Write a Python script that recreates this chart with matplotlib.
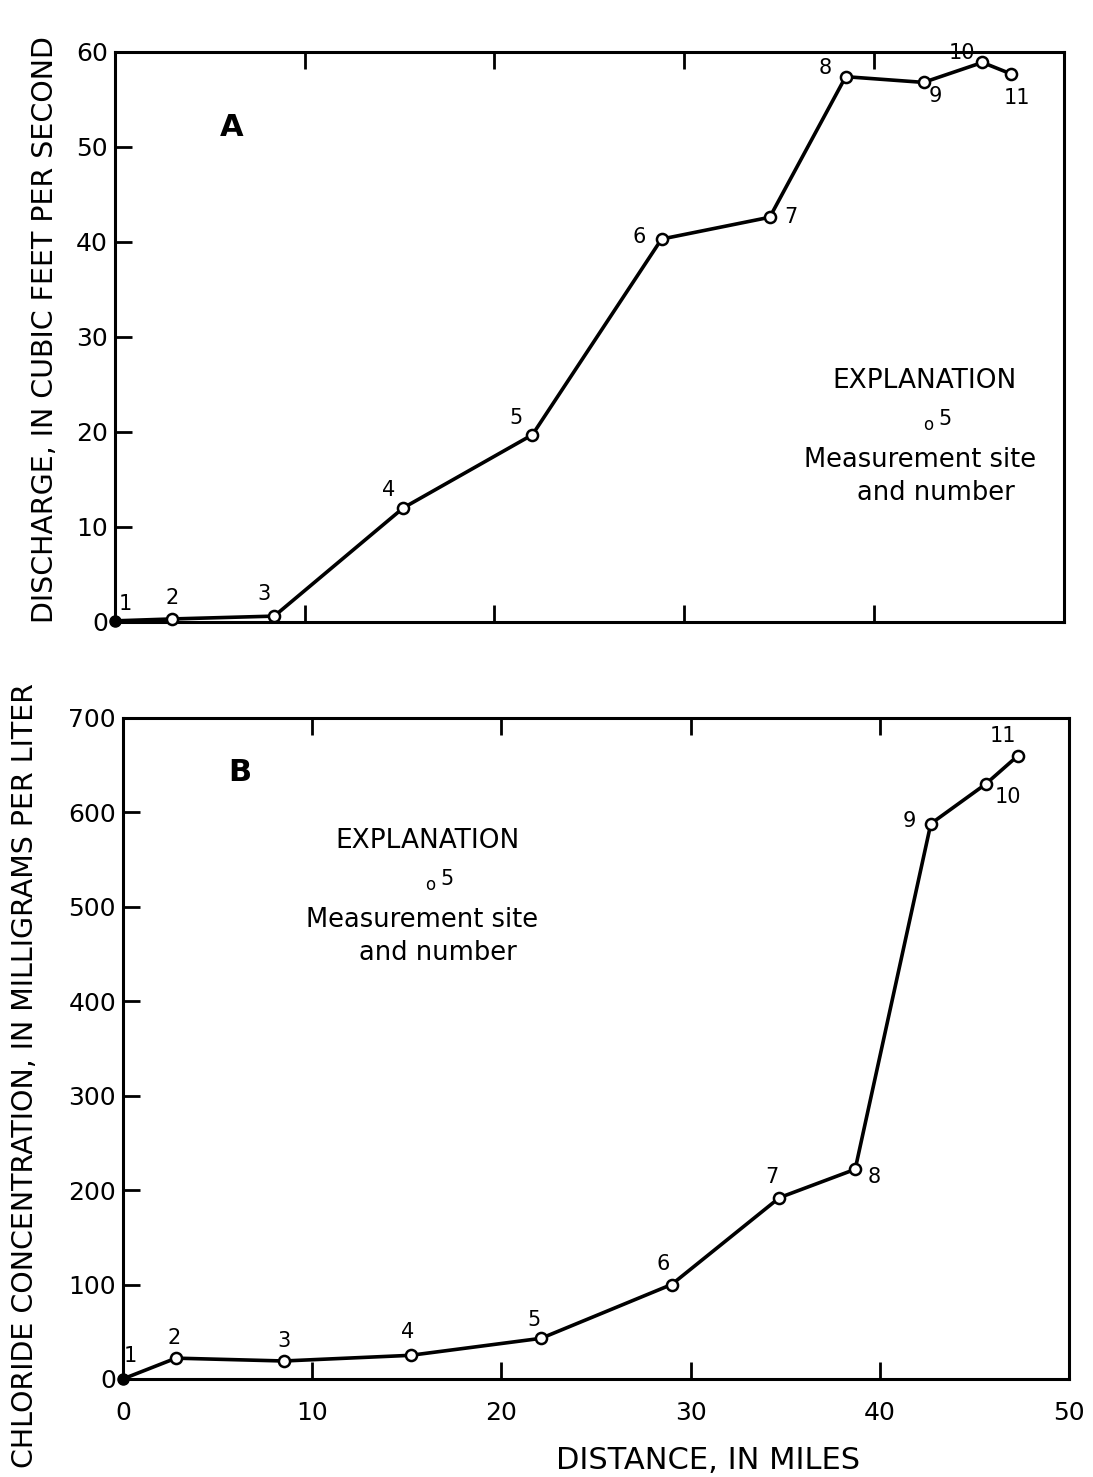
import numpy as np
import matplotlib.pyplot as plt

## site numbers and distances downstream, in miles
sites = ['1', '2', '3', '4', '5', '6', '7', '8', '9', '10', '11']
dist_a = [0.0, 3.0, 8.4, 15.2, 22.0, 28.8, 34.5, 38.5, 42.6, 45.7, 47.2]
dist_b = [0.0, 2.8, 8.5, 15.2, 22.1, 29.0, 34.7, 38.7, 42.7, 45.6, 47.3]

## A: discharge, cubic feet per second
discharge = [0.1, 0.3, 0.6, 12.0, 19.7, 40.3, 42.6, 57.4, 56.8, 58.9, 57.7]

## B: chloride concentration, mg/L
chloride = [0, 22, 19, 25, 43, 100, 192, 222, 588, 630, 660]

xticks = [0, 10, 20, 30, 40, 50]
yticks_a = [0, 10, 20, 30, 40, 50, 60]
yticks_b = [0, 100, 200, 300, 400, 500, 600, 700]

# label offsets (pixels) from each point
offs_a = [(11, 17), (0, 21), (-10, 22), (-15, 18), (-16, 17), (-22, 2),
          (21, 0), (-21, 9), (12, -14), (-20, 9), (6, -24)]
offs_b = [(7, 23), (-2, 20), (0, 20), (-3, 23), (-7, 18), (-8, 21),
          (-8, 21), (19, -8), (-22, 3), (22, -13), (-15, 20)]

plt.rcParams['font.family'] = 'DejaVu Sans'

fig = plt.figure(figsize=(10.93, 14.77), dpi=100)
axA = fig.add_axes([0.105, 0.579, 0.8685, 0.3858])
axB = fig.add_axes([0.1125, 0.0664, 0.8655, 0.4475])


def style(ax, yticks, ymax, show_x):
    ax.set_xlim(0, 50)
    ax.set_ylim(0, ymax)
    ax.set_yticks(yticks)
    ax.set_xticks(xticks)
    for s in ax.spines.values():
        s.set_linewidth(2.2)
    ax.tick_params(axis='both', direction='in', length=12.5, width=2,
                   labelsize=18)
    ax.tick_params(axis='x', top=True, pad=16)
    ax.tick_params(axis='y', pad=5)
    if not show_x:
        ax.tick_params(axis='x', labelbottom=False)


def draw(ax, x, y, offs):
    ax.plot(x, y, 'k-', lw=2.6, zorder=2)
    ax.plot(x[1:], y[1:], 'o', ms=8, mfc='white', mec='black', mew=1.8,
            zorder=3, clip_on=False)
    ax.plot(x[0], y[0], 'o', ms=8, color='black', zorder=3, clip_on=False)
    for xi, yi, s, o in zip(x, y, sites, offs):
        ax.annotate(s, (xi, yi), xytext=o, textcoords='offset pixels',
                    ha='center', va='center', fontsize=15)


def explanation(ax, x, y):
    # offsets in pixels below the heading
    kw = dict(xycoords='axes fraction', textcoords='offset pixels',
              ha='center', va='center')
    ax.annotate('EXPLANATION', (x, y), xytext=(0, 0), fontsize=19, **kw)
    ax.annotate('o', (x, y), xytext=(3, -44), fontsize=12, **kw)
    ax.annotate('5', (x, y), xytext=(20, -38), fontsize=15, **kw)
    ax.annotate('Measurement site', (x, y), xytext=(-5, -79), fontsize=18.5,
                **kw)
    ax.annotate('and number', (x, y), xytext=(11, -112), fontsize=18.5, **kw)


style(axA, yticks_a, 60, False)
draw(axA, dist_a, discharge, offs_a)
axA.text(0.123, 0.868, 'A', transform=axA.transAxes, fontsize=22,
         fontweight='bold', ha='center', va='center')
explanation(axA, 0.8535, 0.4228)

style(axB, yticks_b, 700, True)
draw(axB, dist_b, chloride, offs_b)
axB.text(0.124, 0.917, 'B', transform=axB.transAxes, fontsize=22,
         fontweight='bold', ha='center', va='center')
explanation(axB, 0.3214, 0.8136)

fig.text(0.041, 0.777, 'DISCHARGE, IN CUBIC FEET PER SECOND', rotation=90,
         ha='center', va='center', fontsize=20.5)
fig.text(0.023, 0.272, 'CHLORIDE CONCENTRATION, IN MILLIGRAMS PER LITER',
         rotation=90, ha='center', va='center', fontsize=20.5)
fig.text(0.648, 0.0115, 'DISTANCE, IN MILES', ha='center', va='center',
         fontsize=22)

fig.savefig('out.png', dpi=100)
